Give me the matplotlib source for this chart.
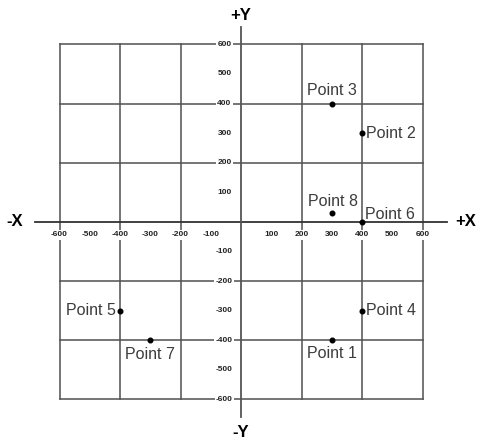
import matplotlib

matplotlib.use('Agg')
import matplotlib.pyplot as plt

# --- chart data ---
point_names = ["Point 1", "Point 2", "Point 3", "Point 4",
               "Point 5", "Point 6", "Point 7", "Point 8"]
point_x = [300, 400, 300, 400, -400, 400, -300, 300]
point_y = [-400, 300, 400, -300, -300, 0, -400, 30]

grid_vals = [-600, -400, -200, 200, 400, 600]
x_tick_vals = [-600, -500, -400, -300, -200, -100, 100, 200, 300, 400, 500, 600]
y_tick_vals = [600, 500, 400, 300, 200, 100, -100, -200, -300, -400, -500, -600]
axis_names = ["+X", "-X", "+Y", "-Y"]

# where each label sits around its point (offset in points, alignment)
label_place = {
    "Point 1": ((0, -4), "center", "top"),
    "Point 2": ((3, 0), "left", "center"),
    "Point 3": ((0, 4), "center", "bottom"),
    "Point 4": ((3, 0), "left", "center"),
    "Point 5": ((-3, 0), "right", "center"),
    "Point 6": ((2, 0), "left", "bottom"),
    "Point 7": ((0, -5), "center", "top"),
    "Point 8": ((1, 3), "center", "bottom"),
}


def main():
    plt.rcParams['font.family'] = ['Liberation Sans', 'DejaVu Sans']

    fig = plt.figure(figsize=(4.83, 4.47), dpi=100)
    ax = fig.add_axes([0, 0, 1, 1])
    ax.set_xlim(-797, 800)
    ax.set_ylim(-761, 750)
    ax.axis('off')

    line_col = '#505050'
    # grid lines
    for v in grid_vals:
        ax.plot([v, v], [-600, 600], color=line_col, lw=1.1, zorder=1)
        ax.plot([-600, 600], [v, v], color=line_col, lw=1.1, zorder=1)

    # main axes
    ax.plot([-680, 680], [0, 0], color='#333333', lw=1.3, zorder=2)
    ax.plot([0, 0], [-660, 660], color='#555555', lw=1.3, zorder=2)

    # tick labels with white boxes that break the grid lines
    tick_box = dict(facecolor='white', edgecolor='none', pad=1.0)
    for v in x_tick_vals:
        ax.text(v, -44, str(v), fontsize=6, fontweight='bold', color='#222222',
                ha='center', va='center', bbox=tick_box, zorder=3)
    for v in y_tick_vals:
        ax.text(-55, v, str(v), fontsize=6, fontweight='bold', color='#222222',
                ha='center', va='center', bbox=tick_box, zorder=3)

    # axis names
    ax.text(742, 0, axis_names[0], fontsize=12, fontweight='bold', ha='center', va='center')
    ax.text(-747, 0, axis_names[1], fontsize=12, fontweight='bold', ha='center', va='center')
    ax.text(0, 698, axis_names[2], fontsize=12, fontweight='bold', ha='center', va='center')
    ax.text(0, -712, axis_names[3], fontsize=12, fontweight='bold', ha='center', va='center')

    # points and their labels
    ax.scatter(point_x, point_y, s=11, color='black', zorder=5)
    for name, px, py in zip(point_names, point_x, point_y):
        off, ha, va = label_place[name]
        ax.annotate(name, (px, py), xytext=off, textcoords='offset points',
                    ha=ha, va=va, fontsize=11.5, color='#3c3c3c', zorder=4)

    fig.savefig("out.png", dpi=100)
    plt.close(fig)


if __name__ == "__main__":
    main()
